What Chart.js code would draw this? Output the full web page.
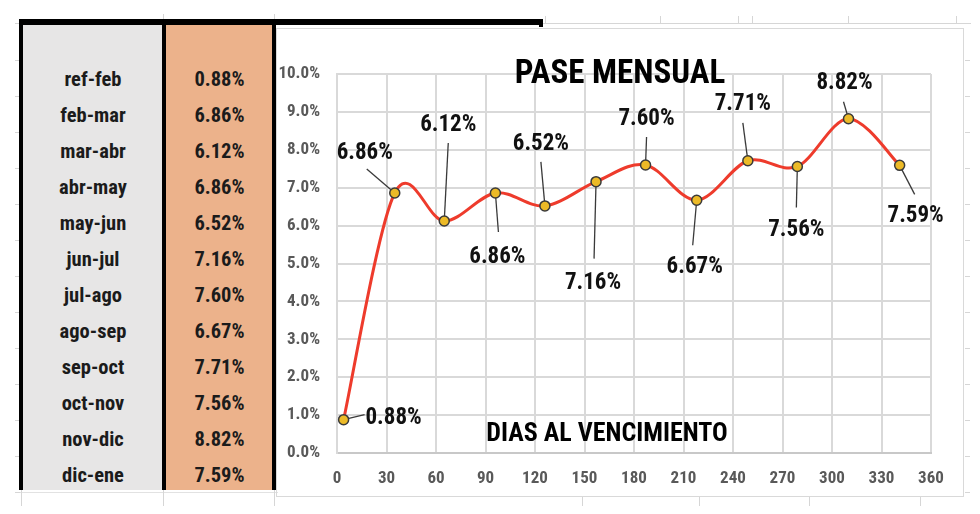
<!DOCTYPE html>
<html>
<head>
<meta charset="utf-8">
<script src="https://cdn.jsdelivr.net/npm/chart.js@4.4.1/dist/chart.umd.min.js"></script>
<style>
html,body{margin:0;padding:0;background:#fff;width:980px;height:514px;overflow:hidden;}
body{position:relative;font-family:"Roboto Condensed","Open Sans Condensed",Roboto,sans-serif;}
.abs{position:absolute;}
#grayCol{left:23px;top:25px;width:140px;height:465px;background:#E7E6E6;}
#orangeCol{left:166px;top:25px;width:107px;height:465px;background:#ECB28B;}
.vb{top:19px;width:4px;height:471px;background:#000;}
#topBorder{left:19px;top:19px;width:524px;height:6px;background:#000;}
.col{top:61px;}
.cell{height:36px;line-height:36px;text-align:center;font-weight:bold;font-size:20.5px;color:#1b1b1b;white-space:nowrap;}
#chartFrame{left:276px;top:28px;width:688px;height:469px;border:1px solid #D9D9D9;box-sizing:border-box;}
#chartWrap{left:276px;top:28px;width:688px;height:469px;}
</style>
</head>
<body>
<div id="deco"></div>
<div class="abs" id="grayCol"></div>
<div class="abs" id="orangeCol"></div>
<div class="abs col" id="colPeriods" style="left:23px;width:140px;"></div>
<div class="abs col" id="colValues" style="left:166px;width:107px;"></div>
<div class="abs vb" style="left:19px;"></div>
<div class="abs vb" style="left:162px;"></div>
<div class="abs vb" style="left:272px;"></div>
<div class="abs" id="topBorder"></div>
<div class="abs" style="left:539px;top:19px;width:4px;height:8px;background:#000;"></div>
<div class="abs" id="chartFrame"></div>
<div class="abs" id="chartWrap"><canvas id="c" width="688" height="469" style="width:688px;height:469px;"></canvas></div>

<script>
// ---- data ----
const periods = ['ref-feb','feb-mar','mar-abr','abr-may','may-jun','jun-jul','jul-ago','ago-sep','sep-oct','oct-nov','nov-dic','dic-ene'];
const days = [4, 35, 65, 96, 126, 157, 187, 218, 249, 279, 310, 341];
const pase = [0.88, 6.86, 6.12, 6.86, 6.52, 7.16, 7.60, 6.67, 7.71, 7.56, 8.82, 7.59];
const chartTitle = 'PASE MENSUAL';
const xAxisCaption = 'DIAS AL VENCIMIENTO';

// ---- label layout (styling): [labelDx, labelDy, leaderDx, leaderDy] relative to each point ----
const labelLayout = [
  [50, -2, 21, -5],
  [-30, -41, -28, -24],
  [4, -97, 4, -78],
  [2, 63, 3, 39],
  [-4, -63, -4, -44],
  [-3, 101, -2, 77],
  [1, -47, 1, -28],
  [-2, 66, -4, 45],
  [-5, -58, -5, -38],
  [-1, 63, -1, 41],
  [-4, -36, -5, -17],
  [16, 50, 15, 29]
];

// ---- table ----
const fmt = v => v.toFixed(2) + '%';
const cp = document.getElementById('colPeriods');
const cv = document.getElementById('colValues');
periods.forEach((p, i) => {
  const a = document.createElement('div'); a.className = 'cell'; a.textContent = p; cp.appendChild(a);
  const b = document.createElement('div'); b.className = 'cell'; b.textContent = fmt(pase[i]); cv.appendChild(b);
});

// ---- spreadsheet decorations ----
const deco = document.getElementById('deco');
function addLine(l, t, w, h, col) {
  const d = document.createElement('div');
  d.className = 'abs'; d.style.cssText = `left:${l}px;top:${t}px;width:${w}px;height:${h}px;background:${col || '#D6D6D6'};`;
  deco.appendChild(d);
}
addLine(543, 23, 428, 1);
[545, 660, 738, 752, 848, 956].forEach(x => addLine(x, 16, 1, 8));
addLine(163, 14, 1, 6); addLine(274, 14, 1, 6);
addLine(16, 492, 262, 1, '#E2E2E2');
[21, 163, 274].forEach(x => addLine(x, 490, 1, 16));
[582, 699, 809, 920].forEach(x => addLine(x, 497, 1, 9));
for (let k = 0; k <= 12; k++) {
  addLine(15, 60 + 36 * k, 5, 1);
  addLine(965, 60 + 36 * k, 5, 1);
}
addLine(15, 23, 5, 1);

// ---- chart ----
const FONT = '"Roboto Condensed","Open Sans Condensed",Roboto,sans-serif';
const SMOOTH = 1 / 6; // Excel-style smoothed line

const smoothPlugin = {
  id: 'excelSmooth',
  beforeDatasetsDraw(chart) {
    const meta = chart.getDatasetMeta(0);
    const line = meta.dataset;
    line.updateControlPoints(chart.chartArea, 'x');
    const pts = meta.data;
    const n = pts.length;
    for (let i = 0; i < n; i++) {
      const p = pts[i];
      const prev = pts[Math.max(0, i - 1)];
      const next = pts[Math.min(n - 1, i + 1)];
      const dx = (next.x - prev.x) * SMOOTH;
      const dy = (next.y - prev.y) * SMOOTH;
      p.cp1x = p.x - dx; p.cp1y = p.y - dy;
      p.cp2x = p.x + dx; p.cp2y = p.y + dy;
    }
    line._path = undefined;
  }
};

const labelPlugin = {
  id: 'pointLabels',
  beforeDatasetsDraw(chart) {
    const meta = chart.getDatasetMeta(0);
    const c = chart.ctx;
    c.save();
    c.strokeStyle = '#3a3a3a';
    c.lineWidth = 1.3;
    meta.data.forEach((p, i) => {
      const o = labelLayout[i];
      c.beginPath();
      c.moveTo(p.x, p.y);
      c.lineTo(p.x + o[2], p.y + o[3]);
      c.stroke();
    });
    c.restore();
  },
  afterDraw(chart) {
    const meta = chart.getDatasetMeta(0);
    const c = chart.ctx;
    const a = chart.chartArea;
    c.save();
    c.fillStyle = '#111';
    c.textAlign = 'center';
    c.textBaseline = 'middle';
    c.font = 'bold 23px ' + FONT;
    meta.data.forEach((p, i) => {
      const o = labelLayout[i];
      c.fillText(fmt(pase[i]), p.x + o[0], p.y + o[1] + 1);
    });
    c.font = 'bold 26px ' + FONT;
    c.textBaseline = 'alphabetic';
    c.fillStyle = '#000';
    c.fillText(xAxisCaption, a.left + (a.right - a.left) * 0.4545, a.bottom - 12.5);
    c.restore();
  }
};

const tickFont = { family: FONT, size: 17, weight: 'bold' };

new Chart(document.getElementById('c'), {
  type: 'line',
  data: {
    datasets: [{
      data: days.map((d, i) => ({ x: d, y: pase[i] })),
      borderColor: '#EE3B2C',
      borderWidth: 3,
      tension: 0.4,
      fill: false,
      pointRadius: 5,
      pointBackgroundColor: '#ECBA27',
      pointBorderColor: '#3a3a3a',
      pointBorderWidth: 1.5
    }]
  },
  options: {
    responsive: false,
    animation: false,
    layout: { padding: 0 },
    plugins: {
      legend: { display: false },
      tooltip: { enabled: false },
      title: {
        display: true,
        text: chartTitle,
        color: '#000',
        align: 'center',
        font: { family: FONT, size: 33, weight: 'bold', lineHeight: '0px' },
        padding: { top: 47, bottom: -1 }
      }
    },
    scales: {
      x: {
        type: 'linear', min: 0, max: 360,
        afterFit(s) { s.height = 44; },
        ticks: { stepSize: 30, autoSkip: false, maxRotation: 0, padding: 16, color: '#595959', font: tickFont },
        grid: { color: '#D9D9D9', lineWidth: 2, drawTicks: false },
        border: { color: '#C8C8C8', width: 2 }
      },
      y: {
        min: 0, max: 10,
        afterFit(s) { s.width = 61; },
        ticks: { stepSize: 1, padding: 17, color: '#595959', font: tickFont, callback: v => v.toFixed(1) + '%' },
        grid: { color: '#D9D9D9', lineWidth: 2, drawTicks: false },
        border: { color: '#D9D9D9', width: 2 }
      },
      yRight: {
        position: 'right', min: 0, max: 10,
        afterFit(s) { s.width = 33; },
        ticks: { display: false },
        grid: { display: false, drawTicks: false },
        border: { display: false }
      }
    }
  },
  plugins: [smoothPlugin, labelPlugin]
});
</script>
</body>
</html>
